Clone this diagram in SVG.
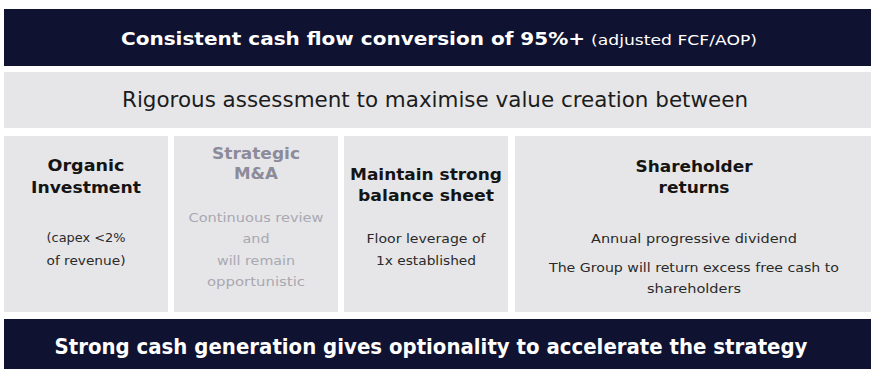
<svg xmlns="http://www.w3.org/2000/svg" width="871" height="369" viewBox="0 0 871 369">
  <style>
    .bg { fill: #ffffff; }
    .navy { fill: #0f1230; }
    .panel { fill: #e6e6e8; }
    text { font-family: "DejaVu Sans", "Liberation Sans", sans-serif; }
    .banner { fill: #ffffff; font-weight: bold; }
    .bannerNote { fill: #ffffff; font-size: 14.5px; }
    .lead { fill: #1c1c1c; font-size: 20.5px; text-anchor: middle; }
    .head { fill: #141414; font-size: 16.5px; font-weight: bold; text-anchor: middle; }
    .body { fill: #2a2a2a; font-size: 13px; text-anchor: middle; }
    .muted-head { fill: #8d8b99; }
    .muted-body { fill: #a9a8b1; }
  </style>

  <rect class="bg" x="0" y="0" width="871" height="369"/>

  <!-- Top banner -->
  <g id="cash-conversion">
    <rect class="navy" x="4" y="9" width="867" height="57"/>
    <text class="banner" x="121" y="45" font-size="18" textLength="464" lengthAdjust="spacingAndGlyphs">Consistent cash flow conversion of 95%+</text>
    <text class="bannerNote" x="591" y="45" textLength="166" lengthAdjust="spacingAndGlyphs">(adjusted FCF/AOP)</text>
  </g>

  <!-- Assessment band -->
  <g id="assessment">
    <rect class="panel" x="4" y="72" width="867" height="56"/>
    <text class="lead" x="435" y="107" textLength="626" lengthAdjust="spacingAndGlyphs">Rigorous assessment to maximise value creation between</text>
  </g>

  <!-- Capital allocation pillars -->
  <g id="organic-investment">
    <rect class="panel" x="4" y="136" width="164" height="176"/>
    <text class="head" x="86" y="171" textLength="77" lengthAdjust="spacingAndGlyphs">Organic</text>
    <text class="head" x="86" y="193" textLength="110" lengthAdjust="spacingAndGlyphs">Investment</text>
    <text class="body" x="86" y="242" textLength="79" lengthAdjust="spacingAndGlyphs">(capex &lt;2%</text>
    <text class="body" x="86" y="265" textLength="79" lengthAdjust="spacingAndGlyphs">of revenue)</text>
  </g>

  <g id="strategic-ma">
    <rect class="panel" x="174" y="136" width="164" height="176"/>
    <text class="head muted-head" x="256" y="159" textLength="88" lengthAdjust="spacingAndGlyphs">Strategic</text>
    <text class="head muted-head" x="256" y="179" textLength="44" lengthAdjust="spacingAndGlyphs">M&amp;A</text>
    <text class="body muted-body" x="256" y="222" textLength="135" lengthAdjust="spacingAndGlyphs">Continuous review</text>
    <text class="body muted-body" x="256" y="243" textLength="27" lengthAdjust="spacingAndGlyphs">and</text>
    <text class="body muted-body" x="256" y="265" textLength="78" lengthAdjust="spacingAndGlyphs">will remain</text>
    <text class="body muted-body" x="256" y="286" textLength="98" lengthAdjust="spacingAndGlyphs">opportunistic</text>
  </g>

  <g id="balance-sheet">
    <rect class="panel" x="344" y="136" width="164" height="176"/>
    <text class="head" x="426" y="180" textLength="152" lengthAdjust="spacingAndGlyphs">Maintain strong</text>
    <text class="head" x="426" y="201" textLength="136" lengthAdjust="spacingAndGlyphs">balance sheet</text>
    <text class="body" x="426" y="243" textLength="119" lengthAdjust="spacingAndGlyphs">Floor leverage of</text>
    <text class="body" x="426" y="265" textLength="100" lengthAdjust="spacingAndGlyphs">1x established</text>
  </g>

  <g id="shareholder-returns">
    <rect class="panel" x="515" y="136" width="356" height="176"/>
    <text class="head" x="694" y="172" textLength="117" lengthAdjust="spacingAndGlyphs">Shareholder</text>
    <text class="head" x="694" y="193" textLength="71" lengthAdjust="spacingAndGlyphs">returns</text>
    <text class="body" x="694" y="243" textLength="206" lengthAdjust="spacingAndGlyphs">Annual progressive dividend</text>
    <text class="body" x="694" y="272" textLength="290" lengthAdjust="spacingAndGlyphs">The Group will return excess free cash to</text>
    <text class="body" x="694" y="293" textLength="94" lengthAdjust="spacingAndGlyphs">shareholders</text>
  </g>

  <!-- Bottom banner -->
  <g id="optionality">
    <rect class="navy" x="4" y="319" width="867" height="50"/>
    <text class="banner" x="431" y="354" font-size="21" text-anchor="middle" textLength="753" lengthAdjust="spacingAndGlyphs">Strong cash generation gives optionality to accelerate the strategy</text>
  </g>
</svg>
